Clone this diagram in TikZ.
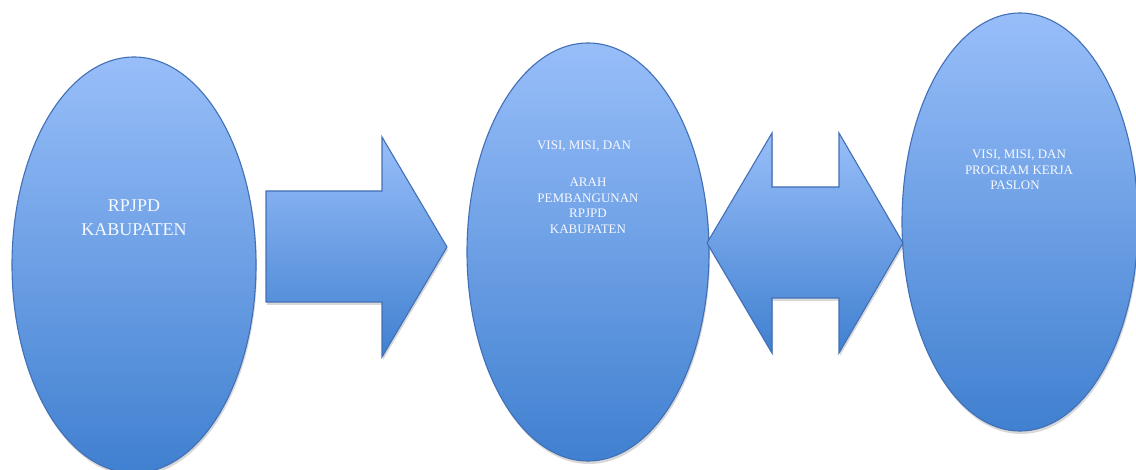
\documentclass[tikz,border=0pt]{standalone}
\usepackage{fontspec}
\setmainfont{Liberation Serif}
\usetikzlibrary{shapes.geometric,shadows}
\definecolor{topblue}{RGB}{152,190,249}
\definecolor{botblue}{RGB}{64,128,208}
\definecolor{edgeblue}{RGB}{66,112,182}
\definecolor{txt}{RGB}{246,249,255}
\tikzset{
  softshadow/.style={drop shadow={shadow xshift=1pt, shadow yshift=-3pt, opacity=0.28, fill=black!55}},
  blob/.style={ellipse, draw=edgeblue, line width=1.1pt, top color=topblue, bottom color=botblue, inner sep=0pt, softshadow},
  arrowshape/.style={draw=edgeblue, line width=1.1pt, line join=miter, top color=topblue, bottom color=botblue, softshadow},
  lbl/.style={text=txt, align=center, inner sep=0pt, font=\fontsize{13}{15.5}\selectfont},
  biglbl/.style={text=txt, align=center, inner sep=0pt, font=\fontsize{18}{24}\selectfont}
}
\begin{document}
\begin{tikzpicture}[x=1pt, y=-1pt]
  \useasboundingbox (0,0) rectangle (1136,470);
  % ellipses
  \node[blob, minimum width=244pt, minimum height=416pt] (e1) at (134,265) {};
  \node[blob, minimum width=242pt, minimum height=418pt] (e2) at (588,252) {};
  \node[blob, minimum width=236pt, minimum height=418pt] (e3) at (1020,222) {};
  % arrows
  \path[arrowshape] (266,191) -- (382,191) -- (382,137) -- (447,247) -- (382,357) -- (382,302) -- (266,302) -- cycle;
  \path[arrowshape] (707,243) -- (772,133) -- (772,187) -- (839,187) -- (839,133) -- (903,243) -- (839,353) -- (839,298) -- (772,298) -- (772,353) -- cycle;
  % labels
  \node[biglbl] (t1) at (134,218) {RPJPD\\KABUPATEN};
  \node[lbl] (t2a) at (584,146) {VISI, MISI, DAN};
  \node[lbl] (t2b) at (588,206) {ARAH\\PEMBANGUNAN\\RPJPD\\KABUPATEN};
  \node[lbl] (t3) at (1019,170) {VISI, MISI, DAN\\PROGRAM KERJA\\PASLON\hspace*{8pt}};
\end{tikzpicture}
\end{document}
